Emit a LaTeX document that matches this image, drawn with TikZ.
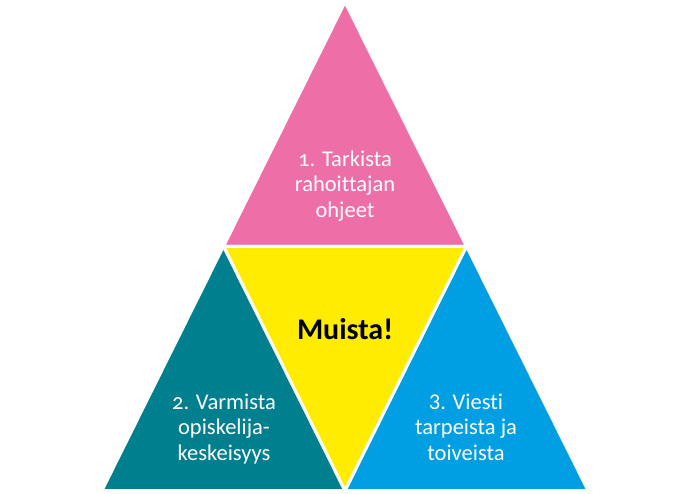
\documentclass[tikz,border=0pt]{standalone}
\usetikzlibrary{calc}
\usepackage{fontspec}
\setmainfont{Carlito}[Numbers=OldStyle, Ligatures=NoCommon]
\definecolor{cpink}{HTML}{EE6FA7}
\definecolor{cyellow}{HTML}{FFEC00}
\definecolor{cteal}{HTML}{00808F}
\definecolor{cblue}{HTML}{009FE3}
\tikzset{
  tri/.style={draw=white, line width=3pt, line join=round},
  lbl/.style={text=white, align=center, font=\fontsize{22.5}{25.5}\selectfont, inner sep=0pt, anchor=base},
}
\begin{document}
\begin{tikzpicture}[x=1pt,y=-1pt]
\useasboundingbox (0,0) rectangle (690,493);
\coordinate (T) at (345,2);
\coordinate (L) at (102,490.5);
\coordinate (R) at (588,490.5);
\coordinate (ML) at ($(T)!0.5!(L)$);
\coordinate (MR) at ($(T)!0.5!(R)$);
\coordinate (MB) at ($(L)!0.5!(R)$);
\fill[white] (0,0) rectangle (690,493);
\filldraw[tri, fill=cpink] (T) -- (MR) -- (ML) -- cycle;
\filldraw[tri, fill=cteal] (ML) -- (MB) -- (L) -- cycle;
\filldraw[tri, fill=cblue] (MR) -- (R) -- (MB) -- cycle;
\filldraw[tri, fill=cyellow] (ML) -- (MR) -- (MB) -- cycle;
\node[lbl] (t1) at (345,217) {1. Tarkista\\rahoittajan\\ohjeet};
\node[anchor=base, inner sep=0pt, font=\fontsize{30}{34}\selectfont\bfseries] (m) at (345,339) {Muista!};
\node[lbl] (t2) at (224,460) {2. Varmista\\opiskelija-\\keskeisyys};
\node[lbl] (t3) at (466,460) {{\addfontfeatures{Numbers=Lining}3.} Viesti\\tarpeista ja\\toiveista};
\end{tikzpicture}
\end{document}
